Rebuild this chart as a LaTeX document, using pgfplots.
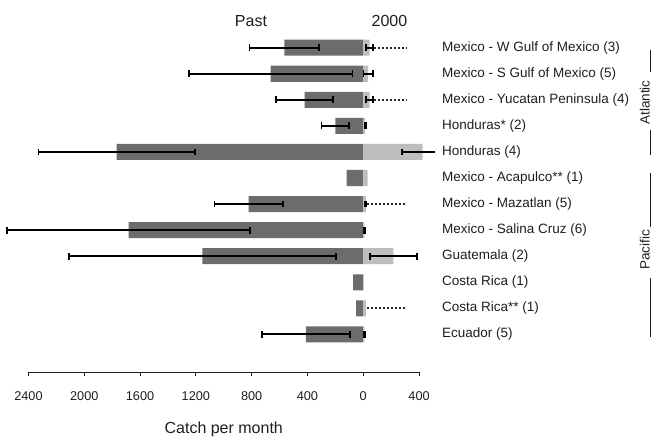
\documentclass[border=0pt]{standalone}
\usepackage{pgfplots}
\pgfplotsset{compat=1.18}
\usepackage{fontspec}
\setmainfont{Liberation Sans}

\definecolor{pastgray}{HTML}{6C6C6C}
\definecolor{nowgray}{HTML}{BDBDBD}
\definecolor{txt}{HTML}{1E1E1E}

\pgfplotsset{
  hbar/.style={xbar, bar shift=0pt, bar width=0.614, draw=none},
  eb/.style={error bars/.cd, x dir=both, x explicit,
    error bar style={line width=1.8bp, draw=black, solid},
    error mark options={rotate=90, line width=1.8bp, draw=black, mark size=3.4bp}},
  rng/.style={line width=2bp, black!85, dash pattern=on 2bp off 2bp},
}

\begin{document}
\begin{tikzpicture}
\begin{axis}[
    scale only axis,
    x=0.1395bp, y=26.06bp,
    xmin=-2400, xmax=400,
    ymin=-0.45, ymax=13.1,
    clip=false,
    axis x line*=bottom,
    axis y line*=right,
    x axis line style={-, line width=0.8pt, draw=txt},
    y axis line style={draw=none},
    xtick={-2400,-2000,-1600,-1200,-800,-400,0,400},
    xticklabels={2400,2000,1600,1200,800,400,0,400},
    tick align=outside,
    major tick length=4.3bp,
    x tick style={line width=0.8pt, draw=txt},
    y tick style={draw=none},
    xticklabel style={font=\fontsize{12.7bp}{14bp}\selectfont, text=txt, yshift=-11.5bp},
    ytick={12,11,10,9,8,7,6,5,4,3,2,1},
    yticklabels={Mexico - W Gulf of Mexico (3),
                 Mexico - S Gulf of Mexico (5),
                 Mexico - Yucatan Peninsula (4),
                 Honduras* (2),
                 Honduras (4),
                 Mexico - Acapulco** (1),
                 Mexico - Mazatlan (5),
                 Mexico - Salina Cruz (6),
                 Guatemala (2),
                 Costa Rica (1),
                 Costa Rica** (1),
                 Ecuador (5)},
    yticklabel style={font=\fontsize{13.5bp}{15bp}\selectfont, text=txt, anchor=west, xshift=15.3bp},
    xlabel={Catch per month},
    xlabel style={font=\fontsize{16bp}{18bp}\selectfont, text=txt,
                  at={(axis description cs:0.5,0)}, anchor=north, yshift=-46bp},
    /pgf/number format/assume math mode=true,
]

% past catch, plotted to the left of zero
\addplot[hbar, fill=pastgray, eb]
  coordinates {
    (-565,12) +- (250,0)
    (-664,11) +- (587,0)
    (-420,10) +- (204,0)
    (-200,9)  +- (99,0)
    (-1768,8) +- (560,0)
    (-822,6)  +- (245,0)
    (-1682,5) +- (870,0)
    (-1154,4) +- (957,0)
    (-411,1)  +- (317,0)
  };
\addplot[hbar, fill=pastgray]
  coordinates {
    (-119,7)
    (-72,3)
    (-52,2)
  };

% catch in 2000, to the right of zero
\addplot[hbar, fill=nowgray, eb]
  coordinates {
    (45,12) +- (27,0)
    (35,11) +- (33,0)
    (45,10) +- (27,0)
    (14,9)  +- (4,0)
    (18,6)  +- (5,0)
    (8,5)   +- (5,0)
    (216,4) +- (168,0)
    (8,1)   +- (5,0)
  };
\addplot[hbar, fill=nowgray]
  coordinates {
    (426,8)
    (31,7)
    (18,2)
  };
% Honduras (4) in 2000: the range runs out past the frame
\addplot[line width=1.8bp, black, mark=|, mark size=3.4bp, mark indices={1}]
  coordinates {(275,8) (514,8)};

% dotted ranges
\addplot[rng] coordinates {(76,12) (311,12)};
\addplot[rng] coordinates {(76,10) (311,10)};
\addplot[rng] coordinates {(28,6) (311,6)};
\addplot[rng] coordinates {(26,2) (311,2)};

\node[font=\fontsize{16bp}{18bp}\selectfont, text=txt] at (axis cs:-805,13.04) {Past};
\node[font=\fontsize{16bp}{18bp}\selectfont, text=txt] at (axis cs:188,13.04) {2000};

% ocean brackets
\node[rotate=90, font=\fontsize{13.5bp}{15bp}\selectfont, text=txt] at (axis cs:2019,9.9) {Atlantic};
\node[rotate=90, font=\fontsize{13.5bp}{15bp}\selectfont, text=txt] at (axis cs:2019,4.24) {Pacific};
\draw[txt, line width=0.6pt] (axis cs:2055,11.91) -- (axis cs:2055,11.07);
\draw[txt, line width=0.6pt] (axis cs:2055,8.84) -- (axis cs:2055,7.88);
\draw[txt, line width=0.6pt] (axis cs:2055,7.19) -- (axis cs:2055,5.12);
\draw[txt, line width=0.6pt] (axis cs:2055,3.16) -- (axis cs:2055,0.9);

\coordinate (bbA) at (axis cs:-2604,-2.9);
\coordinate (bbB) at (axis cs:2077,13.83);
\end{axis}
\pgfresetboundingbox
\path[use as bounding box] (bbA) rectangle (bbB);
\end{tikzpicture}
\end{document}
